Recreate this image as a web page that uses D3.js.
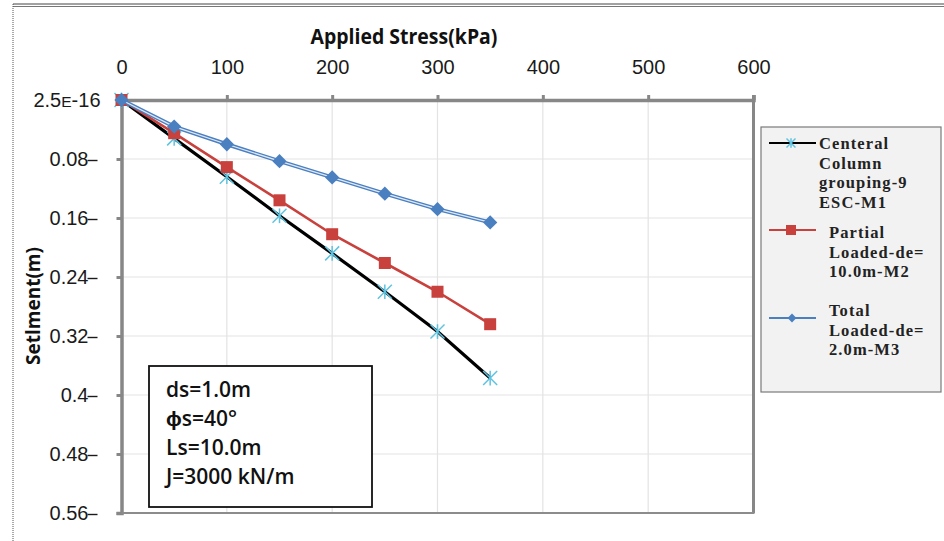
<!DOCTYPE html>
<html>
<head>
<meta charset="utf-8">
<script src="https://cdn.jsdelivr.net/npm/d3@7"></script>
<style>
  html, body { margin: 0; padding: 0; background: #fff; }
  svg { display: block; }
</style>
</head>
<body>
<svg id="chart" width="944" height="541"></svg>
<script>
// Applied stress (kPa) at each load step
const stress = [0, 50, 100, 150, 200, 250, 300, 350];
// Settlement (m) for each configuration
const centralM1 = [0, 0.052, 0.104, 0.157, 0.208, 0.260, 0.314, 0.377];
const partialM2 = [0, 0.045, 0.091, 0.136, 0.182, 0.221, 0.260, 0.304];
const totalM3   = [0, 0.036, 0.060, 0.083, 0.105, 0.127, 0.148, 0.166];

const xTicks = [0, 100, 200, 300, 400, 500, 600];
const yTicks = [0, 0.08, 0.16, 0.24, 0.32, 0.40, 0.48, 0.56];
const yTickLabels = ["2.5E-16", "0.08", "0.16", "0.24", "0.32", "0.4", "0.48", "0.56"];

const legendLabels = [
  ["Centeral", "Column", "grouping-9", "ESC-M1"],
  ["Partial", "Loaded-de=", "10.0m-M2"],
  ["Total", "Loaded-de=", "2.0m-M3"]
];
const noteLines = ["ds=1.0m", "\u03d5s=40\u00b0", "Ls=10.0m", "J=3000 kN/m"];

(function draw() {
const svg = d3.select("#chart");
const pLeft = 121.5, pRight = 753.5, pTop = 100, pBottom = 513;

const x = d3.scaleLinear().domain([0, 600]).range([pLeft, pRight]);
const y = d3.scaleLinear().domain([0, 0.56]).range([pTop, pBottom]);

// page frame
svg.append("line").attr("x1", 13).attr("x2", 944).attr("y1", 4).attr("y2", 4)
  .attr("stroke", "#444").attr("stroke-width", 1);
svg.append("line").attr("x1", 13).attr("x2", 944).attr("y1", 6.5).attr("y2", 6.5)
  .attr("stroke", "#777").attr("stroke-width", 1);
svg.append("line").attr("x1", 13).attr("x2", 13).attr("y1", 4).attr("y2", 541)
  .attr("stroke", "#555").attr("stroke-width", 1).attr("stroke-dasharray", "1,1");

// gridlines
svg.append("g").selectAll("line").data(xTicks.slice(1, -1)).join("line")
  .attr("x1", d => x(d)).attr("x2", d => x(d)).attr("y1", pTop).attr("y2", pBottom)
  .attr("stroke", "#e3e3e3").attr("stroke-width", 1.2);
svg.append("g").selectAll("line").data(yTicks.slice(1, -1)).join("line")
  .attr("x1", pLeft).attr("x2", pRight).attr("y1", d => y(d)).attr("y2", d => y(d))
  .attr("stroke", "#e3e3e3").attr("stroke-width", 1.2);

const tickFont = "Liberation Sans, Arial, sans-serif";

// top axis (stress)
const xAxis = d3.axisTop(x).tickValues(xTicks).tickSize(5).tickPadding(21.5).tickFormat(d3.format("d"));
const gx = svg.append("g").attr("transform", `translate(0,${pTop})`).call(xAxis);
gx.select(".domain").attr("stroke", "#878787").attr("stroke-width", 3.5);
gx.selectAll(".tick line").attr("stroke", "#878787").attr("stroke-width", 3);
gx.selectAll(".tick text").attr("font-family", tickFont)
  .attr("font-size", 20).attr("fill", "#1a1a1a");

// left axis (settlement)
const yAxis = d3.axisLeft(y).tickValues(yTicks).tickSize(5).tickPadding(28)
  .tickFormat((d, i) => yTickLabels[i]);
const gy = svg.append("g").attr("transform", `translate(${pLeft},0)`).call(yAxis);
gy.select(".domain").attr("stroke", "#878787").attr("stroke-width", 3.5);
gy.selectAll(".tick line").attr("stroke", "#878787").attr("stroke-width", 3);
gy.selectAll(".tick text").attr("font-family", tickFont)
  .attr("font-size", 20).attr("fill", "#1a1a1a");
// trailing dash after each label
gy.selectAll(".tick").filter((d, i) => i > 0).append("line")
  .attr("x1", -34).attr("x2", -24).attr("y1", 1).attr("y2", 1)
  .attr("stroke", "#1a1a1a").attr("stroke-width", 1.4);
// first label: scientific notation with a small E
gy.selectAll(".tick text").filter((d, i) => i === 0)
  .attr("dx", 12)
  .text(null)
  .call(t => {
    t.append("tspan").text("2.5");
    t.append("tspan").attr("font-size", 15.5).text("E");
    t.append("tspan").text("-16");
  });

// right and bottom frame of plot area
svg.append("line").attr("x1", pRight).attr("x2", pRight).attr("y1", pTop - 5).attr("y2", pBottom)
  .attr("stroke", "#878787").attr("stroke-width", 3);
svg.append("line").attr("x1", pLeft).attr("x2", pRight + 1).attr("y1", pBottom).attr("y2", pBottom)
  .attr("stroke", "#8c8c8c").attr("stroke-width", 2.2);

// axis titles
svg.append("text").attr("transform", "translate(404,44) scale(0.95,1)").attr("text-anchor", "middle")
  .attr("font-family", "Open Sans, Liberation Sans, sans-serif").attr("font-weight", "bold")
  .attr("font-size", 20.5).attr("fill", "#111")
  .text("Applied Stress(kPa)");
svg.append("text").attr("transform", "translate(40,306) rotate(-90) scale(0.95,1)")
  .attr("text-anchor", "middle")
  .attr("font-family", "Open Sans, Liberation Sans, sans-serif").attr("font-weight", "bold")
  .attr("font-size", 20).attr("fill", "#111").text("Setlment(m)");

// data series
const pts = vals => stress.map((s, i) => [s, vals[i]]);
const line = d3.line().x(d => x(d[0])).y(d => y(d[1]));

// M1: black line with light-blue asterisks
const g1 = svg.append("g");
g1.append("path").datum(pts(centralM1)).attr("d", line)
  .attr("fill", "none").attr("stroke", "#000").attr("stroke-width", 3.2);
const star = (g, cx, cy, r) => {
  [[-r, -r, r, r], [-r, r, r, -r], [0, -r * 1.05, 0, r * 1.05]].forEach(s =>
    g.append("line").attr("x1", cx + s[0]).attr("y1", cy + s[1]).attr("x2", cx + s[2]).attr("y2", cy + s[3])
      .attr("stroke", "#5fc3e0").attr("stroke-width", 1.5));
};
pts(centralM1).forEach(d => star(g1, x(d[0]), y(d[1]), 7));

// M2: red line with squares
const g2 = svg.append("g");
g2.append("path").datum(pts(partialM2)).attr("d", line)
  .attr("fill", "none").attr("stroke", "#c8413d").attr("stroke-width", 2.6);
g2.selectAll("rect").data(pts(partialM2)).join("rect")
  .attr("x", d => x(d[0]) - 6).attr("y", d => y(d[1]) - 6).attr("width", 12).attr("height", 12)
  .attr("fill", "#c8413d");

// M3: blue double line with diamonds
const g3 = svg.append("g");
g3.append("path").datum(pts(totalM3)).attr("d", line)
  .attr("fill", "none").attr("stroke", "#4a7fc0").attr("stroke-width", 4);
g3.append("path").datum(pts(totalM3)).attr("d", line)
  .attr("fill", "none").attr("stroke", "#dfe9f6").attr("stroke-width", 1.3);
g3.selectAll("path.dia").data(pts(totalM3)).join("path").attr("class", "dia")
  .attr("d", d3.symbol().type(d3.symbolDiamond2).size(130))
  .attr("transform", d => `translate(${x(d[0])},${y(d[1])})`)
  .attr("fill", "#4a7fc0");

// annotation box
const note = svg.append("g");
note.append("rect").attr("x", 149).attr("y", 366).attr("width", 223).attr("height", 141)
  .attr("fill", "#fff").attr("stroke", "#111").attr("stroke-width", 1.8);
note.selectAll("text").data(noteLines).join("text")
  .attr("x", 166).attr("y", (d, i) => 397 + i * 29)
  .attr("font-family", "Open Sans, Liberation Sans, sans-serif").attr("font-weight", 600)
  .attr("font-size", 21).attr("fill", "#111").text(d => d);

// legend
const lg = svg.append("g");
lg.append("rect").attr("x", 761).attr("y", 127).attr("width", 180).attr("height", 265)
  .attr("fill", "#f2f2f2").attr("stroke", "#7a7a7a").attr("stroke-width", 1.2);
const legFont = "Liberation Serif, Times New Roman, serif";
const legStartY = [149, 238, 316];
const legTextX = [819, 829, 829];
legendLabels.forEach((lines, k) => {
  lg.append("g").selectAll("text").data(lines).join("text")
    .attr("x", legTextX[k]).attr("y", (d, i) => legStartY[k] + i * 19.7)
    .attr("font-family", legFont).attr("font-weight", "bold").attr("letter-spacing", 1.1)
    .attr("font-size", 16.5).attr("fill", "#222").text(d => d);
});
// legend samples
lg.append("line").attr("x1", 769).attr("x2", 816).attr("y1", 143).attr("y2", 143)
  .attr("stroke", "#000").attr("stroke-width", 2.2);
star(lg, 791, 143, 4.5);
lg.append("line").attr("x1", 769).attr("x2", 816).attr("y1", 230).attr("y2", 230)
  .attr("stroke", "#c8413d").attr("stroke-width", 2.2);
lg.append("rect").attr("x", 786).attr("y", 225).attr("width", 10).attr("height", 10).attr("fill", "#c8413d");
lg.append("line").attr("x1", 769).attr("x2", 816).attr("y1", 318).attr("y2", 318)
  .attr("stroke", "#4a7fc0").attr("stroke-width", 1.8);
lg.append("path").attr("d", d3.symbol().type(d3.symbolDiamond2).size(50))
  .attr("transform", "translate(792,318)").attr("fill", "#4a7fc0");
})();
</script>
</body>
</html>
